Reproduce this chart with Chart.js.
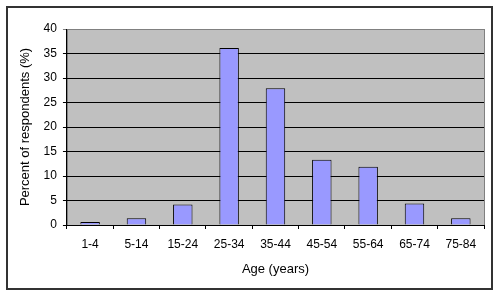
<!DOCTYPE html>
<html>
<head>
<meta charset="utf-8">
<script src="https://cdn.jsdelivr.net/npm/chart.js@4"></script>
<style>
  html, body { margin: 0; padding: 0; background: #fff; }
  #wrap { width: 500px; height: 295px; position: relative; }
</style>
</head>
<body>
<div id="wrap"><canvas id="grafico" width="500" height="295"></canvas></div>
<script>
// Dados do gráfico
const faixas = ['1-4', '5-14', '15-24', '25-34', '35-44', '45-54', '55-64', '65-74', '75-84'];
const percentuais = [0.6, 1.4, 4.2, 36.1, 27.9, 13.3, 11.9, 4.4, 1.4];
const ticksY = [0, 5, 10, 15, 20, 25, 30, 35, 40];

// Fundo cinza da área do gráfico e moldura externa
const fundoPlugin = {
    id: 'fundo',
    beforeDraw(chart) {
        const ctx = chart.ctx;
        const a = chart.chartArea;
        ctx.save();
        ctx.fillStyle = '#fff';
        ctx.fillRect(0, 0, chart.width, chart.height);
        ctx.strokeStyle = '#333';
        ctx.lineWidth = 2;
        ctx.strokeRect(7, 7, 485, 282);
        ctx.fillStyle = '#c0c0c0';
        ctx.fillRect(a.left, a.top, a.right - a.left, a.bottom - a.top);
        ctx.strokeStyle = '#808080';
        ctx.lineWidth = 1;
        ctx.strokeRect(a.left + 0.5, a.top + 0.5, a.right - a.left, a.bottom - a.top);
        ctx.restore();
    }
};

Chart.defaults.font.family = '"Liberation Sans", Arial, sans-serif';
Chart.defaults.font.size = 12;
Chart.defaults.color = '#000';

const ctx = document.getElementById('grafico').getContext('2d');
new Chart(ctx, {
    type: 'bar',
    data: {
        labels: faixas,
        datasets: [{
            data: percentuais,
            backgroundColor: '#9999ff',
            borderColor: '#000',
            borderWidth: 1,
            categoryPercentage: 1,
            barPercentage: 0.42
        }]
    },
    options: {
        responsive: false,
        animation: false,
        layout: { padding: { left: 14, right: 16, top: 29, bottom: 14 } },
        plugins: {
            legend: { display: false },
            tooltip: { enabled: false }
        },
        scales: {
            x: {
                border: { color: '#000', width: 1 },
                grid: {
                    offset: true,
                    drawOnChartArea: false,
                    drawTicks: true,
                    tickLength: 4,
                    color: '#000'
                },
                ticks: { maxRotation: 0, padding: 8 },
                title: { display: true, text: 'Age (years)', font: { size: 13 }, padding: { top: 2 } }
            },
            y: {
                min: 0,
                max: 40,
                afterBuildTicks(axis) {
                    axis.ticks = ticksY.map(v => ({ value: v }));
                },
                border: { color: '#000', width: 1 },
                grid: {
                    color: c => (c.tick && c.tick.value === 40 ? '#808080' : '#000'),
                    tickLength: 4
                },
                ticks: { padding: 6 },
                title: { display: true, text: 'Percent of respondents (%)', font: { size: 13 }, padding: { bottom: 4 } }
            }
        }
    },
    plugins: [fundoPlugin]
});
</script>
</body>
</html>
